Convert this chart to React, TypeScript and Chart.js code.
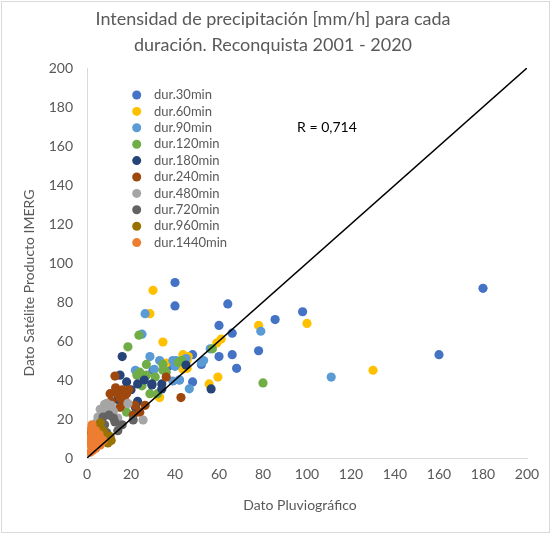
import React, { useEffect, useRef } from 'react';
import { Chart, registerables } from 'chart.js';

Chart.register(...registerables);

const TITLE_LINES = ['Intensidad de precipitación [mm/h] para cada', 'duración. Reconquista 2001 - 2020'];
const X_TITLE = 'Dato Pluviográfico';
const Y_TITLE = 'Dato Satélite Producto IMERG';
const R_LABEL = 'R = 0,714';
const R_LABEL_POS = [95.5, 169.5];
const AXIS_MIN = 0;
const AXIS_MAX = 200;
const AXIS_STEP = 20;
const ONE_TO_ONE = [[0, 0], [200, 200]];

const SERIES_NAMES = [
  'dur.30min', 'dur.60min', 'dur.90min', 'dur.120min', 'dur.180min',
  'dur.240min', 'dur.480min', 'dur.720min', 'dur.960min', 'dur.1440min',
];
const SERIES_COLORS = [
  '#4472C4', '#FFC000', '#5B9BD5', '#70AD47', '#264478',
  '#9E480E', '#A5A5A5', '#636363', '#997300', '#ED7D31',
];

const dur30 = [
  [180, 87], [160, 53], [98, 75], [40, 90], [40, 78], [64, 79], [85.5, 71], [60, 68],
  [66, 64], [78, 55], [66, 53], [60, 52], [68, 46], [48, 53], [48, 39], [37, 47],
  [44, 47], [42, 40], [52, 48], [30, 45],
];
const dur60 = [
  [130, 45], [100, 69], [78, 68], [61, 61], [59, 59], [43.6, 53], [59.5, 41.5], [55.5, 38],
  [45.5, 50], [30, 86], [34.5, 59.5], [28.6, 74], [36, 48.7], [32, 32], [45.5, 46], [46, 52],
  [43.6, 45.6], [33, 31],
];
const dur90 = [
  [111, 41.5], [79, 65], [26.4, 74], [25, 63.5], [28.6, 52], [39, 50], [33, 50], [56, 56],
  [52, 49], [53, 50], [40.5, 50], [30.6, 45.5], [42, 40], [39, 39.5], [46.5, 35.5], [40, 47],
  [22, 45], [45, 51],
];
const dur120 = [
  [80, 38.5], [57, 56], [43, 50], [18.6, 57], [23.6, 63], [27, 48], [34.5, 45], [31, 41.5],
  [22.7, 42.5], [24, 44], [27, 42.5], [28.6, 33], [18, 23.5], [32, 33], [34.5, 48], [36, 44],
  [25, 37], [41.5, 49],
];
const dur180 = [
  [16, 52], [45, 47.7], [56.4, 35.4], [34, 35.4], [29.5, 38], [18, 39], [23, 38], [29.5, 37.5],
  [23, 29], [15, 42.5], [14, 30], [20, 35], [34, 38], [26, 40], [22, 26],
];
const dur240 = [
  [42.7, 31], [36, 41.5], [12.7, 42], [16, 35], [18, 33], [15, 30.8], [16.5, 28], [10.5, 33],
  [21.8, 27], [24, 23.5], [26.4, 27], [21, 22], [13, 36], [14, 33], [17, 30], [19, 35],
  [11, 29], [15, 26],
];
const dur480 = [
  [9, 28], [10.5, 25.6], [8, 23], [4.5, 18.5], [18.6, 28], [25.5, 19.5], [14, 20.5], [7, 15],
  [11, 27], [6, 25], [12, 24], [5, 21], [8, 27.5], [3, 16],
];
const dur720 = [
  [12.7, 18.5], [7.3, 21], [9, 13], [14, 14], [21, 19.5], [6, 16], [12, 20.5], [10, 22],
  [16, 17], [4, 12], [8, 17],
];
const dur960 = [
  [10.5, 11], [7.3, 14], [4.5, 11], [9.5, 7.7], [6, 18], [8, 12], [3, 9], [5, 14], [11, 9], [2, 13],
];
const dur1440 = [
  [2.3, 13], [2.3, 9], [3.6, 6.7], [4.5, 10], [6, 6.7], [2.7, 4], [4, 14], [5.5, 12], [2.3, 17],
  [7.3, 9], [1.5, 7], [3, 11], [5, 8], [2, 15], [1, 10], [4, 5], [6, 10], [1.5, 3],
];

const SERIES_DATA = [dur30, dur60, dur90, dur120, dur180, dur240, dur480, dur720, dur960, dur1440];

const FONT = 'Lato, "Open Sans", sans-serif';
const TEXT_COLOR = '#595959';

const bgPlugin = {
  id: 'bgAndFrame',
  beforeDraw(chart: any) {
    const { ctx, width, height } = chart;
    ctx.save();
    ctx.fillStyle = '#ffffff';
    ctx.fillRect(0, 0, width, height);
    ctx.strokeStyle = '#d9d9d9';
    ctx.lineWidth = 1;
    ctx.strokeRect(1.5, 1.5, width - 4, height - 5);
    ctx.restore();
  },
};

const titlesPlugin = {
  id: 'customTitles',
  afterDraw(chart: any) {
    const { ctx, chartArea } = chart;
    ctx.save();
    ctx.fillStyle = TEXT_COLOR;
    ctx.font = `18px ${FONT}`;
    ctx.textAlign = 'center';
    ctx.textBaseline = 'middle';
    ctx.fillText(TITLE_LINES[0], 273, 19);
    ctx.fillText(TITLE_LINES[1], 273, 45);
    ctx.font = `14px ${FONT}`;
    ctx.fillText(X_TITLE, chartArea.left + 213, 505);
    ctx.translate(29, chartArea.top + 215);
    ctx.rotate(-Math.PI / 2);
    ctx.fillText(Y_TITLE, 0, 0);
    ctx.restore();
  },
};

const legendPlugin = {
  id: 'insideLegend',
  afterDraw(chart: any) {
    const { ctx, chartArea } = chart;
    ctx.save();
    ctx.font = `13px ${FONT}`;
    ctx.textBaseline = 'middle';
    ctx.textAlign = 'left';
    SERIES_NAMES.forEach((name, i) => {
      const y = chartArea.top + 27 + i * 16.4;
      ctx.fillStyle = SERIES_COLORS[i];
      ctx.beginPath();
      ctx.arc(chartArea.left + 49.7, y, 4.5, 0, Math.PI * 2);
      ctx.fill();
      ctx.fillStyle = TEXT_COLOR;
      ctx.fillText(name, chartArea.left + 67, y);
    });
    ctx.restore();
  },
};

const rLabelPlugin = {
  id: 'rLabel',
  afterDraw(chart: any) {
    const { ctx, scales } = chart;
    ctx.save();
    ctx.font = `14px ${FONT}`;
    ctx.fillStyle = '#000000';
    ctx.textAlign = 'left';
    ctx.textBaseline = 'middle';
    ctx.fillText(R_LABEL, scales.x.getPixelForValue(R_LABEL_POS[0]), scales.y.getPixelForValue(R_LABEL_POS[1]));
    ctx.restore();
  },
};

export default function App() {
  const ref = useRef<HTMLCanvasElement | null>(null);

  useEffect(() => {
    if (!ref.current) return;
    const datasets: any[] = SERIES_NAMES.map((name, i) => ({
      type: 'scatter',
      label: name,
      data: SERIES_DATA[i].map(([x, y]) => ({ x, y })),
      backgroundColor: SERIES_COLORS[i],
      borderColor: SERIES_COLORS[i],
      borderWidth: 0,
      pointRadius: 4.6,
      order: 20 - i,
    }));
    datasets.push({
      type: 'line',
      label: '1:1',
      data: ONE_TO_ONE.map(([x, y]) => ({ x, y })),
      borderColor: '#000000',
      borderWidth: 1.5,
      pointRadius: 0,
      fill: false,
      order: 0,
    });

    const chart = new Chart(ref.current, {
      type: 'scatter',
      data: { datasets },
      options: {
        responsive: false,
        animation: false,
        devicePixelRatio: 1,
        layout: { padding: { top: 68, right: 25, left: 0, bottom: 0 } },
        plugins: {
          legend: { display: false },
          title: { display: false },
          tooltip: { enabled: false },
        },
        scales: {
          x: {
            type: 'linear',
            min: AXIS_MIN,
            max: AXIS_MAX,
            ticks: { stepSize: AXIS_STEP, color: TEXT_COLOR, font: { size: 14, family: FONT }, padding: 8 },
            grid: { display: false, drawTicks: false },
            border: { display: true, color: '#d9d9d9', width: 1 },
            afterFit: (s: any) => { s.height = 78; },
          },
          y: {
            type: 'linear',
            min: AXIS_MIN,
            max: AXIS_MAX,
            ticks: { stepSize: AXIS_STEP, color: TEXT_COLOR, font: { size: 14, family: FONT }, padding: 14 },
            grid: { display: false, drawTicks: false },
            border: { display: true, color: '#d9d9d9', width: 1 },
            afterFit: (s: any) => { s.width = 87; },
          },
        },
      },
      plugins: [bgPlugin, titlesPlugin, legendPlugin, rLabelPlugin],
    });
    return () => chart.destroy();
  }, []);

  return (
    <div style={{ position: 'absolute', left: 0, top: 0, width: 552, height: 536 }}>
      <canvas ref={ref} width={552} height={536} style={{ width: 552, height: 536, display: 'block' }} />
    </div>
  );
}
